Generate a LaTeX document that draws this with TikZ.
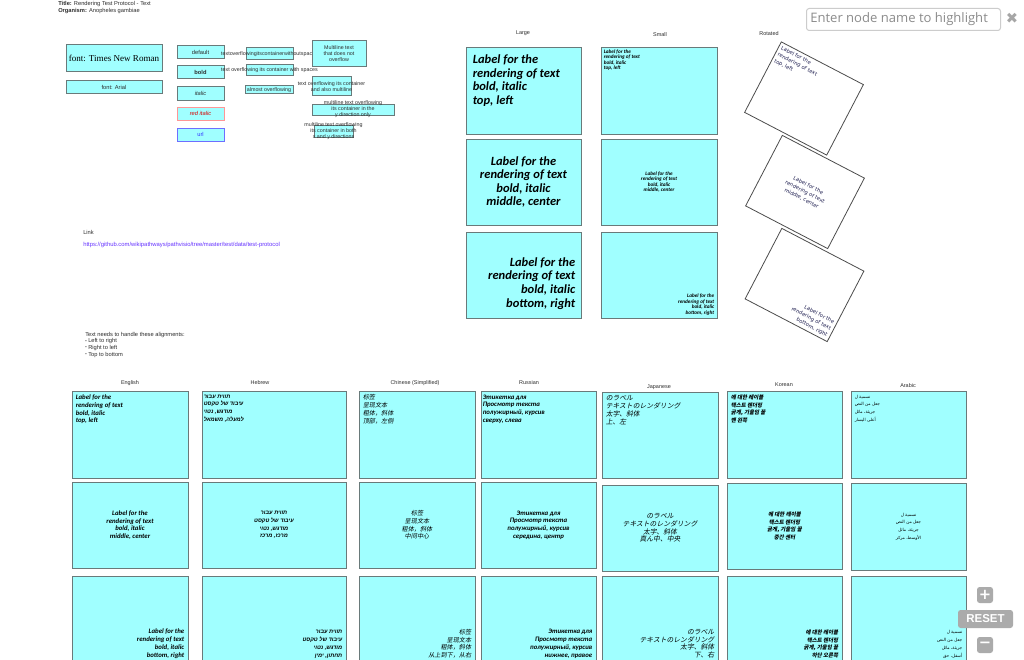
\documentclass[tikz,border=0pt]{standalone}
\usepackage{fontspec}
\usetikzlibrary{fit,calc}
\setmainfont{Liberation Sans}
\newfontfamily\labf{Carlito}
\newfontfamily\hebf[Script=Hebrew]{Liberation Sans}
\newfontfamily\arabf[Script=Arabic]{DejaVu Sans}
\newfontfamily\zhf[FakeSlant=0.2]{Noto Sans CJK SC}
\newfontfamily\jaf[FakeSlant=0.2]{Noto Sans CJK JP}
\newfontfamily\kof[FakeSlant=0.2]{Noto Sans CJK KR}
\newfontfamily\tnrf{Liberation Serif}
\newfontfamily\djf{DejaVu Sans}
\newfontfamily\osf{Open Sans}
\TeXXeTstate=1
\definecolor{cellfill}{RGB}{160,255,255}
\definecolor{cellline}{RGB}{105,122,122}
\definecolor{urlc}{RGB}{102,51,255}
\definecolor{txtc}{RGB}{45,45,45}
\definecolor{rotc}{RGB}{30,30,80}
\newcommand\RL[1]{\beginR #1\endR}
\newcommand\cell[6][cellbox]{\node[#1, fit={(#3,#4)(#5,#6)}] (#2) {};}
\newcommand\TL[3][]{\node[anchor=north west, align=left, inner sep=0pt, #1] (#2t) at ([shift={(4,4)}]#2.north west) {#3};}
\newcommand\MC[3][]{\node[align=center, inner sep=0pt, #1] (#2t) at (#2.center) {#3};}
\newcommand\BR[3][]{\node[anchor=south east, align=right, inner sep=0pt, #1] (#2t) at ([shift={(-4,-5)}]#2.south east) {#3};}
\begin{document}
\begin{tikzpicture}[x=0.75pt,y=-0.75pt,
  cellbox/.style={draw=cellline, fill=cellfill, line width=0.75pt, inner sep=0pt},
  redbox/.style={draw={rgb,255:red,255;green,150;blue,150}, fill=cellfill, line width=0.75pt, inner sep=0pt},
  bluebox/.style={draw={rgb,255:red,110;green,110;blue,255}, fill=cellfill, line width=0.75pt, inner sep=0pt},
  rotbox/.style={draw=black!70, fill=white, line width=0.6pt, inner sep=0pt, minimum width=69.4pt, minimum height=59.6pt},
  small/.style={inner sep=0pt, text=txtc, font=\fontsize{4.3}{5.2}\selectfont},
  hdr/.style={inner sep=0pt, text=txtc, font=\fontsize{4.1}{4.5}\selectfont},
  fa/.style={inner sep=0pt, text=txtc, font=\fontsize{4.3}{5}\selectfont},
  ov/.style={inner sep=0pt, text=txtc, align=center, font=\fontsize{4}{4.5}\selectfont},
  big/.style={font=\labf\bfseries\itshape\fontsize{9.4}{10.2}\selectfont},
  tiny/.style={font=\labf\bfseries\itshape\fontsize{3.9}{4.1}\selectfont},
  en/.style={font=\labf\bfseries\itshape\fontsize{5.1}{5.8}\selectfont},
  he/.style={font=\hebf\bfseries\itshape\fontsize{4.2}{5.8}\selectfont},
  zh/.style={font=\zhf\fontsize{4.6}{5.8}\selectfont},
  ja/.style={font=\jaf\fontsize{5.1}{5.8}\selectfont},
  ko/.style={font=\kof\bfseries\fontsize{4.1}{5.8}\selectfont},
  ar/.style={font=\arabf\fontsize{3.2}{5.8}\selectfont},
  rott/.style={inner sep=0pt, text=rotc, font=\djf\fontsize{3.9}{5.5}\selectfont},
  ctrl/.style={fill=black!33, rounded corners=2pt, text=white, inner sep=0pt}]
\useasboundingbox (0,0) rectangle (1024,660);
\clip (0,0) rectangle (1024,660);
\fill[white] (0,0) rectangle (1024,660);

% title
\node[small, anchor=west] (title) at (58,4) {\textbf{Title:} Rendering Test Protocol - Text};
\node[small, anchor=west] (org) at (58,11) {\textbf{Organism:} Anopheles gambiae};

% font area
\cell{tnr}{66}{45}{162}{72}
\node[inner sep=0pt, font=\tnrf\fontsize{6.8}{8}\selectfont] (tnrt) at (tnr.center) {font: Times New Roman};
\cell{ari}{66}{81}{162}{94}
\node[fa] (arit) at (ari.center) {font: Arial};
\cell{fdef}{177}{46}{224}{59}
\node[fa] (fdeft) at (fdef.center) {default};
\cell{fbold}{177}{66}{224}{79}
\node[fa, font=\bfseries\fontsize{4.3}{5}\selectfont] (fboldt) at (fbold.center) {bold};
\cell{fit}{177}{87}{224}{100}
\node[fa, font=\itshape\fontsize{4.3}{5}\selectfont] (fitt) at (fit.center) {italic};
\cell[redbox]{fred}{177}{107}{224}{120}
\node[fa, text=red!85!black, font=\itshape\fontsize{4.3}{5}\selectfont] (fredt) at (fred.center) {red italic};
\cell[bluebox]{furl}{177}{128}{224}{141}
\node[fa, text=blue!80] (furlt) at (furl.center) {url};

\cell{ov1}{246}{48}{293}{60}
\node[ov] (ov1t) at (ov1.center) {textoverflowingitscontainerwithoutspaces};
\cell{ov2}{246}{65}{293}{76}
\node[ov] (ov2t) at (ov2.center) {text overflowing its container with spaces};
\cell{ov3}{245}{86}{293}{94}
\node[ov] (ov3t) at (ov3.center) {almost overflowing};
\cell{ml1}{312}{41}{366}{67}
\node[ov] (ml1t) at (ml1.center) {Multiline text\\that does not\\overflow};
\cell{ml2}{312}{77}{351}{96}
\node[ov] (ml2t) at (ml2.center) {text overflowing its container\\and also multiline};
\cell{ml3}{312}{104}{394}{115}
\node[ov] (ml3t) at (ml3.center) {multiline text overflowing\\its container in the\\y direction only};
\cell{ml4}{314}{125}{353}{137}
\node[ov] (ml4t) at (ml4.center) {multiline text overflowing\\its container in both\\x and y directions};

% link and notes
\node[small, anchor=west] (link) at (83,232) {Link};
\node[small, anchor=west, text=urlc, font=\fontsize{4.4}{5}\selectfont] (url) at (83,245) {https://github.com/wikipathways/pathvisio/tree/master/test/data/test-protocol};
\node[small, anchor=north west, align=left, font=\fontsize{4.3}{4.9}\selectfont] (notes) at (85,332) {Text needs to handle these alignments:\\\raisebox{0.3ex}{\fontsize{3}{3}\selectfont•} Left to right\\\raisebox{0.3ex}{\fontsize{3}{3}\selectfont•} Right to left\\\raisebox{0.3ex}{\fontsize{3}{3}\selectfont•} Top to bottom};

% Large / Small / Rotated
\node[hdr] (hlarge) at (523,33) {Large};
\node[hdr] (hsmall) at (660,35) {Small};
\node[hdr] (hrot) at (769,34) {Rotated};
\cell{lg1}{466}{48}{581}{134}
\cell{lg2}{466}{139}{581}{225}
\cell{lg3}{466}{232}{581}{318}
\node[anchor=north west, align=left, inner sep=0pt, big] (lg1t) at ([shift={(7,7)}]lg1.north west) {Label for the\\rendering of text\\bold, italic\\top, left};
\MC[big]{lg2}{Label for the\\rendering of text\\bold, italic\\middle, center}
\node[anchor=south east, align=right, inner sep=0pt, big] (lg3t) at ([shift={(-6,-9)}]lg3.south east) {Label for the\\rendering of text\\bold, italic\\bottom, right};
\cell{sm1}{601}{48}{717}{134}
\cell{sm2}{601}{139}{717}{225}
\cell{sm3}{601}{232}{717}{318}
\node[anchor=north west, align=left, inner sep=0pt, tiny] (sm1t) at ([shift={(3,2)}]sm1.north west) {Label for the\\rendering of text\\bold, italic\\top, left};
\MC[tiny]{sm2}{Label for the\\rendering of text\\bold, italic\\middle, center}
\node[anchor=south east, align=right, inner sep=0pt, tiny] (sm3t) at ([shift={(-3,-3)}]sm3.south east) {Label for the\\rendering of text\\bold, italic\\bottom, right};

\begin{scope}[shift={(804,98.5)}, rotate=-27.5, transform shape]
\node[rotbox] (rt1) at (0,0) {};
\node[rott, anchor=north west, align=left] (rt1t) at ([shift={(3,3)}]rt1.north west) {Label for the\\rendering of text\\top, left};
\end{scope}
\begin{scope}[shift={(805,192)}, rotate=-27.5, transform shape]
\node[rotbox] (rt2) at (0,0) {};
\node[rott, align=center] (rt2t) at (rt2.center) {Label for the\\rendering of text\\middle, center};
\end{scope}
\begin{scope}[shift={(804.5,285)}, rotate=-27.5, transform shape]
\node[rotbox] (rt3) at (0,0) {};
\node[rott, anchor=south east, align=right] (rt3t) at ([shift={(-3,-3)}]rt3.south east) {Label for the\\rendering of text\\bottom, right};
\end{scope}

% language headers
\node[hdr] (hen) at (130,383) {English};
\node[hdr] (hhe) at (260,383) {Hebrew};
\node[hdr] (hzh) at (415,383) {Chinese (Simplified)};
\node[hdr] (hru) at (529,383) {Russian};
\node[hdr] (hja) at (659,387) {Japanese};
\node[hdr] (hko) at (784,385) {Korean};
\node[hdr] (har) at (908,386) {Arabic};

% English
\cell{en1}{72}{391}{188}{478}
\cell{en2}{72}{482}{188}{568}
\cell{en3}{72}{576}{188}{663}
\TL[en]{en1}{Label for the\\rendering of text\\bold, italic\\top, left}
\MC[en]{en2}{Label for the\\rendering of text\\bold, italic\\middle, center}
\BR[en]{en3}{Label for the\\rendering of text\\bold, italic\\bottom, right}
% Hebrew
\cell{he1}{202}{391}{346}{478}
\cell{he2}{202}{482}{346}{568}
\cell{he3}{202}{576}{346}{663}
\node[anchor=north west, align=left, inner sep=0pt, he] (he1t) at ([shift={(2,4)}]he1.north west) {\RL{תווית עבור}\\\RL{עיבוד של טקסט}\\\RL{מודגש, נטוי}\\\RL{למעלה, משמאל}};
\MC[he]{he2}{\RL{תווית עבור}\\\RL{עיבוד של טקסט}\\\RL{מודגש, נטוי}\\\RL{מרכז, מרכז}}
\BR[he]{he3}{\RL{תווית עבור}\\\RL{עיבוד של טקסט}\\\RL{מודגש, נטוי}\\\RL{תחתון, ימין}}
% Chinese
\cell{zh1}{359}{391}{475}{478}
\cell{zh2}{359}{482}{475}{568}
\cell{zh3}{359}{576}{475}{663}
\TL[zh]{zh1}{标签\\呈现文本\\粗体，斜体\\顶部，左侧}
\MC[zh]{zh2}{标签\\呈现文本\\粗体，斜体\\中间中心}
\BR[zh]{zh3}{标签\\呈现文本\\粗体，斜体\\从上到下，从右}
% Russian
\cell{ru1}{481}{391}{596}{478}
\cell{ru2}{481}{482}{596}{568}
\cell{ru3}{481}{576}{596}{663}
\node[anchor=north west, align=left, inner sep=0pt, en] (ru1t) at ([shift={(2,4)}]ru1.north west) {Этикетка для\\Просмотр текста\\полужирный, курсив\\сверху, слева};
\MC[en]{ru2}{Этикетка для\\Просмотр текста\\полужирный, курсив\\середина, центр}
\BR[en]{ru3}{Этикетка для\\Просмотр текста\\полужирный, курсив\\нижнее, правое}
% Japanese
\cell{ja1}{602}{392}{718}{478}
\cell{ja2}{602}{485}{718}{571}
\cell{ja3}{602}{576}{718}{663}
\TL[ja]{ja1}{のラベル\\テキストのレンダリング\\太字、斜体\\上、左}
\MC[ja]{ja2}{のラベル\\テキストのレンダリング\\太字、斜体\\真ん中、中央}
\BR[ja]{ja3}{のラベル\\テキストのレンダリング\\太字、斜体\\下、右}
% Korean
\cell{ko1}{727}{391}{842}{478}
\cell{ko2}{727}{483}{842}{569}
\cell{ko3}{727}{576}{842}{663}
\TL[ko]{ko1}{에 대한 레이블\\텍스트 렌더링\\굵게, 기울임 꼴\\맨 왼쪽}
\MC[ko]{ko2}{에 대한 레이블\\텍스트 렌더링\\굵게, 기울임 꼴\\중간 센터}
\BR[ko]{ko3}{에 대한 레이블\\텍스트 렌더링\\굵게, 기울임 꼴\\하단 오른쪽}
% Arabic
\cell{ar1}{851}{391}{966}{478}
\cell{ar2}{851}{483}{966}{570}
\cell{ar3}{851}{576}{966}{663}
\TL[ar]{ar1}{\RL{تسمية ل}\\\RL{جعل من النص}\\\RL{جريئة، مائل}\\\RL{أعلى اليسار}}
\MC[ar]{ar2}{\RL{تسمية ل}\\\RL{جعل من النص}\\\RL{جريئة، مائل}\\\RL{الأوسط، مركز}}
\BR[ar]{ar3}{\RL{تسمية ل}\\\RL{جعل من النص}\\\RL{جريئة، مائل}\\\RL{أسفل، حق}}

% controls
\node[draw=black!20, rounded corners=2pt, line width=0.75pt, minimum width=145.5pt, minimum height=16.5pt, anchor=north west, inner sep=0pt] (search) at (806,8) {};
\node[anchor=west, inner sep=0pt, text=black!45, font=\osf\fontsize{9.8}{10}\selectfont] (searcht) at ([shift={(4,0)}]search.west) {Enter node name to highlight};
\node[inner sep=0pt, text=black!35, font=\djf\fontsize{11}{11}\selectfont] (clear) at (1012,18) {✖};
\node[ctrl, minimum size=12pt, font=\djf\bfseries\fontsize{11}{11}\selectfont] (zin) at (985,595) {+};
\node[ctrl, minimum width=41.25pt, minimum height=13.5pt, font=\bfseries\fontsize{8.6}{9}\selectfont] (reset) at (985.5,619) {RESET};
\node[ctrl, minimum size=12pt, font=\djf\bfseries\fontsize{11}{11}\selectfont] (zout) at (985,645) {−};
\end{tikzpicture}
\end{document}
